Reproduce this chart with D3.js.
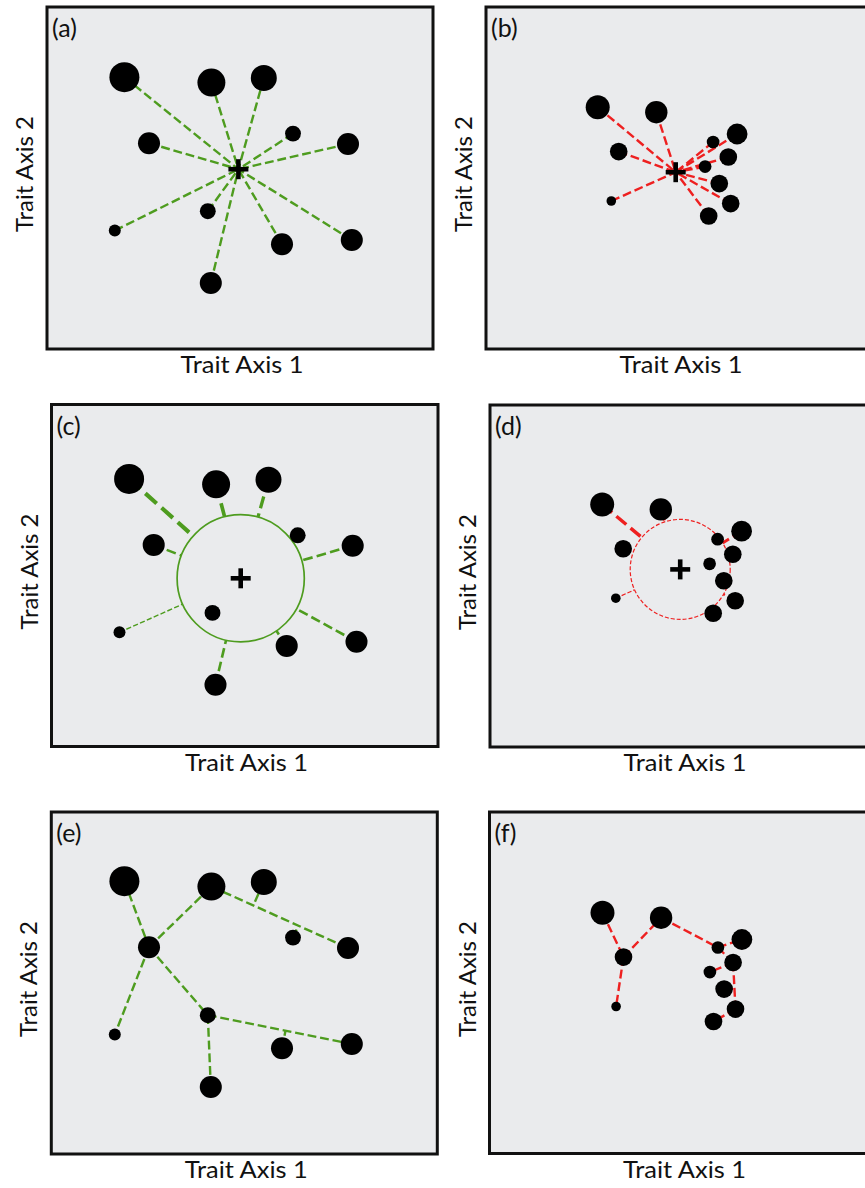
<!DOCTYPE html>
<html>
<head>
<meta charset="utf-8">
<script src="https://cdn.jsdelivr.net/npm/d3@7"></script>
<style>
  html, body { margin: 0; padding: 0; background: #ffffff; }
  svg { display: block; }
  text { font-family: Lato, "Open Sans", "Liberation Sans", sans-serif; fill: #111; }
</style>
</head>
<body>
<svg id="fig" width="865" height="1188"></svg>
<script>
// ---- data -------------------------------------------------------------
const species   = ["sp1","sp2","sp3","sp4","sp5","sp6","sp7","sp8","sp9","sp10","sp11"];
const abundance = [100, 87, 75, 54, 28, 54, 28, 16, 54, 54, 54];

// Community A: species spread widely over trait space
const traitA1 = [3.87, 8.22, 10.84, 5.10, 12.30, 15.05, 8.04, 3.39, 11.75, 15.24, 8.19];
const traitA2 = [13.59, 13.32, 13.55, 10.29, 10.77, 10.25, 6.89, 5.92, 5.24, 5.45, 3.30];

// Community B: the same species packed closer together
const traitB1 = [5.61, 8.54, 12.58, 6.66, 11.38, 12.14, 10.98, 6.29, 11.69, 12.26, 11.16];
const traitB2 = [12.09, 11.84, 10.75, 9.87, 10.35, 9.60, 9.12, 7.40, 8.27, 7.27, 6.65];

// community centroids and dispersion circles (trait units)
const centroidA = [9.57, 8.99];
const centroidB = [9.51, 8.84];
const dispersionCentreA = [9.45, 8.62];
const dispersionRadiusA = 3.18;
const dispersionCentreB = [9.51, 8.84];
const dispersionRadiusB = 2.5;

// functional trees: edges between species, and branches that join an edge
const treeEdgesA = [[0,3],[3,1],[3,7],[3,6],[6,10],[6,9],[1,5]];
const treeBranchesA = [[2,1,5],[4,1,5],[8,6,9]];
const treeEdgesB = [[0,3],[3,1],[3,7],[1,4],[4,2],[4,5],[5,6],[5,9],[9,10]];
const treeBranchesB = [[8,5,9]];

const panelTags  = ["(a)","(b)","(c)","(d)","(e)","(f)"];
const xAxisTitle = "Trait Axis 1";
const yAxisTitle = "Trait Axis 2";

// ---- layout & style ---------------------------------------------------
const traitDomainX = [0, 19.3];
const traitDomainY = [0, 17.1];
const plotW = 386, plotH = 342;

const panels = [
  { box: [47, 7, 386, 342],      origin: [47, 7],        comm: "A", kind: "centroid" },
  { box: [486, 7, 386, 342],     origin: [485.5, 7],     comm: "B", kind: "centroid" },
  { box: [51.5, 404.5, 386.5, 342], origin: [51.7, 408.7], comm: "A", kind: "dispersion" },
  { box: [490, 405, 386, 342],   origin: [490, 404.2],   comm: "B", kind: "dispersion" },
  { box: [51.3, 812, 386, 342],  origin: [47, 811],      comm: "A", kind: "tree" },
  { box: [489.5, 812, 386, 341.5], origin: [490.3, 812.5], comm: "B", kind: "tree" }
];

const GREEN = "#4e9c1f";
const RED = "#ee2020";
const PANEL_FILL = "#eaebed";

const communities = {
  A: {
    t1: traitA1, t2: traitA2, centroid: centroidA,
    circle: dispersionCentreA, circleR: dispersionRadiusA,
    edges: treeEdgesA, branches: treeBranchesA,
    colour: GREEN, rMax: 15
  },
  B: {
    t1: traitB1, t2: traitB2, centroid: centroidB,
    circle: dispersionCentreB, circleR: dispersionRadiusB,
    edges: treeEdgesB, branches: treeBranchesB,
    colour: RED, rMax: 12
  }
};

const svg = d3.select("#fig");

function dashed(sel, colour, w) {
  sel.attr("stroke", colour)
     .attr("stroke-width", w)
     .attr("stroke-dasharray", `${(3.7 * w).toFixed(2)},${(1.6 * w).toFixed(2)}`)
     .attr("fill", "none");
}

function drawCross(g, cx, cy) {
  const h = 10;
  g.append("line").attr("x1", cx - h).attr("x2", cx + h).attr("y1", cy).attr("y2", cy)
    .attr("stroke", "#000").attr("stroke-width", 4.6);
  g.append("line").attr("x1", cx).attr("x2", cx).attr("y1", cy - h).attr("y2", cy + h)
    .attr("stroke", "#000").attr("stroke-width", 4.6);
}

panels.forEach((p, i) => {
  const c = communities[p.comm];
  const [bx, by, bw, bh] = p.box;
  const g = svg.append("g");

  // frame
  g.append("rect").attr("x", bx).attr("y", by).attr("width", bw).attr("height", bh)
    .attr("fill", PANEL_FILL).attr("stroke", "#111").attr("stroke-width", 3);

  // scales
  const x = d3.scaleLinear().domain(traitDomainX).range([p.origin[0], p.origin[0] + plotW]);
  const y = d3.scaleLinear().domain(traitDomainY).range([p.origin[1] + plotH, p.origin[1]]);
  const r = d3.scaleSqrt().domain([0, 100]).range([0, c.rMax]);
  const pxPerUnit = x(1) - x(0);

  const pts = species.map((s, k) => ({
    id: s, ab: abundance[k], px: x(c.t1[k]), py: y(c.t2[k])
  }));

  const links = g.append("g");

  if (p.kind === "centroid") {
    const cx = x(c.centroid[0]), cy = y(c.centroid[1]);
    links.selectAll("line").data(pts).join("line")
      .attr("x1", d => d.px).attr("y1", d => d.py)
      .attr("x2", cx).attr("y2", cy)
      .call(dashed, c.colour, 2.4);
    g.append("g").selectAll("circle").data(pts).join("circle")
      .attr("cx", d => d.px).attr("cy", d => d.py).attr("r", d => r(d.ab)).attr("fill", "#000");
    drawCross(g, cx, cy);
  }

  if (p.kind === "dispersion") {
    const cx = x(c.circle[0]), cy = y(c.circle[1]);
    const R = c.circleR * pxPerUnit;
    const outside = pts.filter(d => Math.hypot(d.px - cx, d.py - cy) > R);
    const scaleW = p.comm === "A" ? 1 : 0.85;
    outside.forEach(d => {
      const dist = Math.hypot(d.px - cx, d.py - cy);
      const ex = cx + (d.px - cx) / dist * R;
      const ey = cy + (d.py - cy) / dist * R;
      const w = (0.9 + d.ab * 0.032) * scaleW;
      links.append("line")
        .attr("x1", d.px).attr("y1", d.py).attr("x2", ex).attr("y2", ey)
        .call(dashed, c.colour, w);
    });
    const ring = g.append("circle").attr("cx", cx).attr("cy", cy).attr("r", R)
      .attr("fill", "none").attr("stroke", c.colour);
    if (p.comm === "A") ring.attr("stroke-width", 1.7);
    else ring.attr("stroke-width", 1.2).attr("stroke-dasharray", "4,2");
    g.append("g").selectAll("circle").data(pts).join("circle")
      .attr("cx", d => d.px).attr("cy", d => d.py).attr("r", d => r(d.ab)).attr("fill", "#000");
    drawCross(g, cx, cy);
  }

  if (p.kind === "tree") {
    links.selectAll("line.edge").data(c.edges).join("line").attr("class", "edge")
      .attr("x1", e => pts[e[0]].px).attr("y1", e => pts[e[0]].py)
      .attr("x2", e => pts[e[1]].px).attr("y2", e => pts[e[1]].py)
      .call(dashed, c.colour, 2.4);
    // a branch joins a species to the nearest point of an existing edge
    c.branches.forEach(([s, a, b]) => {
      const P = pts[s], A = pts[a], B = pts[b];
      const dx = B.px - A.px, dy = B.py - A.py;
      const t = ((P.px - A.px) * dx + (P.py - A.py) * dy) / (dx * dx + dy * dy);
      const fx = A.px + t * dx, fy = A.py + t * dy;
      links.append("line")
        .attr("x1", P.px).attr("y1", P.py).attr("x2", fx).attr("y2", fy)
        .call(dashed, c.colour, 2.4);
    });
    g.append("g").selectAll("circle").data(pts).join("circle")
      .attr("cx", d => d.px).attr("cy", d => d.py).attr("r", d => r(d.ab)).attr("fill", "#000");
  }

  // panel tag
  g.append("text").attr("x", bx + 5).attr("y", by + 30)
    .attr("font-size", 25).text(panelTags[i]);

  // axis titles
  g.append("text")
    .attr("x", bx + 195).attr("y", by + bh + 24)
    .attr("text-anchor", "middle").attr("font-size", 24)
    .attr("textLength", 123).attr("lengthAdjust", "spacingAndGlyphs")
    .text(xAxisTitle);

  g.append("text")
    .attr("transform", `translate(${bx - 14},${by + 167}) rotate(-90)`)
    .attr("text-anchor", "middle").attr("font-size", 24)
    .attr("textLength", 116).attr("lengthAdjust", "spacingAndGlyphs")
    .text(yAxisTitle);
});
</script>
</body>
</html>
